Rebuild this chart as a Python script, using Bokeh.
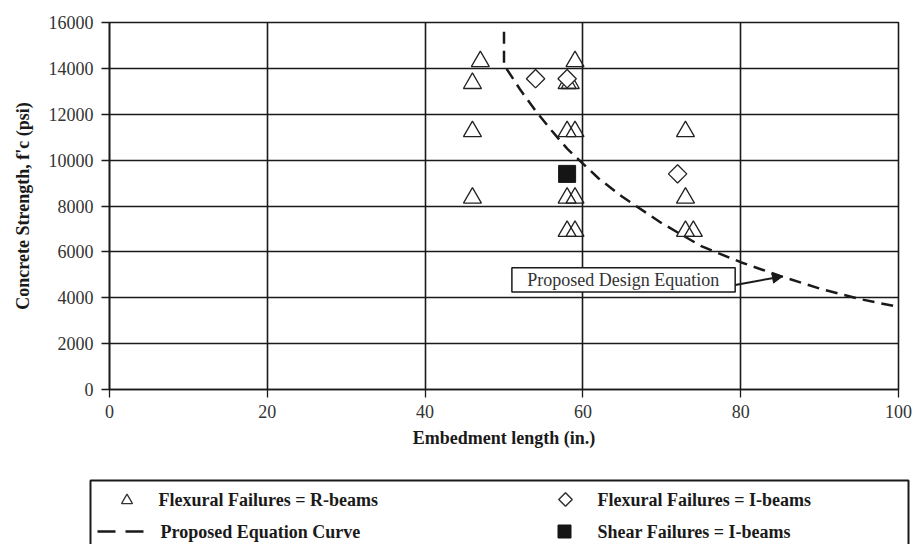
import math
from bokeh.plotting import figure
from bokeh.layouts import column
from bokeh.models import Range1d, FixedTicker, Arrow, NormalHead
from bokeh.core.properties import value
from bokeh.embed import file_html
from bokeh.resources import INLINE

# ---------------- data ----------------
x_ticks = [0, 20, 40, 60, 80, 100]
y_ticks = [0, 2000, 4000, 6000, 8000, 10000, 12000, 14000, 16000]

# Flexural failures, R-beams (open triangles)
rbeam_len = [47, 46, 46, 46, 59, 58, 58.4, 58, 59, 58, 59, 58, 59, 73, 73, 73, 74]
rbeam_fc = [14300, 13350, 11250, 8350, 14300, 13350, 13350, 11250, 11250,
            8350, 8350, 6900, 6900, 11250, 8350, 6900, 6900]

# Flexural failures, I-beams (open diamonds)
ibeam_len = [54, 58, 72]
ibeam_fc = [13550, 13550, 9400]

# Shear failures, I-beams (filled square)
shear_len = [58]
shear_fc = [9400]

# Proposed equation curve (dashed)
curve_len = [50, 50, 52, 54, 56, 58, 60, 62, 65, 70, 75, 80, 85, 90, 95, 100]
curve_fc = [15600, 14150, 13100, 12150, 11300, 10500, 9850, 9200, 8400,
            7250, 6250, 5550, 4950, 4400, 3950, 3600]

# Callout "Proposed Design Equation"
note_text = "Proposed Design Equation"
note_box = dict(left=51.0, right=79.3, bottom=4250, top=5310)
note_xy = (65.1, 4780)
arrow_from = (79.3, 4560)
arrow_to = (85.3, 4930)

legend_labels = ["Flexural Failures = R-beams", "Proposed Equation Curve",
                 "Flexural Failures = I-beams", "Shear Failures = I-beams"]

SERIF = "Liberation Serif"
INK = "#1a1a1a"

W = 915
TOP_H = 470      # height of the chart part
LEG_H = 74       # height of the legend strip below it
FL, FR, FT, FB = 109, 898, 22, 389          # frame edges on the page

# ---------------- chart ----------------
p = figure(width=W, height=TOP_H,
           x_range=Range1d(0, 100), y_range=Range1d(0, 16000),
           output_backend="svg", toolbar_location=None,
           min_border_left=FL, min_border_right=W - FR,
           min_border_top=FT, min_border_bottom=TOP_H - FB,
           background_fill_color="white", border_fill_color="white")

p.outline_line_color = INK
p.outline_line_width = 1.6

p.xaxis.ticker = FixedTicker(ticks=x_ticks)
p.yaxis.ticker = FixedTicker(ticks=y_ticks)
p.xaxis.axis_label = "Embedment length (in.)"
p.yaxis.axis_label = "Concrete Strength, f'c (psi)"

for ax in (p.xaxis, p.yaxis):
    ax.axis_line_color = INK
    ax.axis_line_width = 1.6
    ax.major_tick_line_color = INK
    ax.major_tick_line_width = 1.3
    ax.major_tick_out = 8
    ax.major_tick_in = 0
    ax.minor_tick_line_color = None
    ax.major_label_text_font = SERIF
    ax.major_label_text_font_size = "18px"
    ax.major_label_text_color = "#333333"
    ax.axis_label_text_font = SERIF
    ax.axis_label_text_font_size = "18px"
    ax.axis_label_text_font_style = "bold"
    ax.axis_label_text_color = INK

p.xaxis.major_label_standoff = 7
p.xaxis.axis_label_standoff = 7
p.yaxis.major_label_standoff = 8
p.yaxis.axis_label_standoff = 13

p.grid.grid_line_color = INK
p.grid.grid_line_width = 1.6
p.grid.grid_line_alpha = 1.0

# equation curve
p.line(curve_len, curve_fc, line_color=INK, line_width=2.5, line_dash="12 7")

# data markers
p.scatter(rbeam_len, rbeam_fc, marker="triangle", size=18,
          fill_color=None, line_color="#222222", line_width=1.3)
p.scatter(ibeam_len, ibeam_fc, marker="square", angle=math.pi / 4, size=13,
          fill_color="white", line_color="#222222", line_width=1.3)
p.scatter(shear_len, shear_fc, marker="square", size=17,
          fill_color="#151515", line_color="#151515")

# callout box, text and arrow
p.quad(left=[note_box["left"]], right=[note_box["right"]],
       bottom=[note_box["bottom"]], top=[note_box["top"]],
       fill_color="white", line_color=INK, line_width=1.5)
p.text(x=[note_xy[0]], y=[note_xy[1]], text=[note_text],
       text_font=value(SERIF), text_font_size="18px",
       text_align="center", text_baseline="middle", text_color="#333333")
p.add_layout(Arrow(end=NormalHead(size=10, fill_color=INK, line_color=INK),
                   x_start=arrow_from[0], y_start=arrow_from[1],
                   x_end=arrow_to[0], y_end=arrow_to[1],
                   line_color=INK, line_width=2))

# ---------------- legend strip (page-pixel coordinates) ----------------
lg = figure(width=W, height=LEG_H,
            x_range=Range1d(0, W), y_range=Range1d(TOP_H + LEG_H, TOP_H),
            output_backend="svg", toolbar_location=None,
            x_axis_type=None, y_axis_type=None, min_border=0,
            outline_line_color=None,
            background_fill_color="white", border_fill_color="white")
lg.grid.visible = False

for fig in (p, lg):
    if "frame_align" in fig.properties():
        fig.frame_align = False

lg.quad(left=[90], right=[908], top=[480], bottom=[620],
        fill_color=None, line_color=INK, line_width=2)

row1, row2 = 499, 531
lg.scatter([126.5], [row1 + 1], marker="triangle", size=11,
           fill_color=None, line_color="#333333", line_width=1.3)
lg.line([97, 143], [row2, row2], line_color=INK, line_width=2.5, line_dash="18 10")
lg.scatter([565], [row1], marker="square", angle=math.pi / 4, size=9.5,
           fill_color="white", line_color="#333333", line_width=1.5)
lg.scatter([564], [row2], marker="square", size=13,
           fill_color="#151515", line_color="#151515")

lg.text(x=[158, 160, 597, 597], y=[row1, row2, row1, row2], text=legend_labels,
        text_font=value(SERIF), text_font_size="18px", text_font_style="bold",
        text_baseline="middle", text_align="left", text_color=INK)

layout = column(p, lg, spacing=0)

with open("out.html", "w") as f:
    f.write(file_html(layout, INLINE))
